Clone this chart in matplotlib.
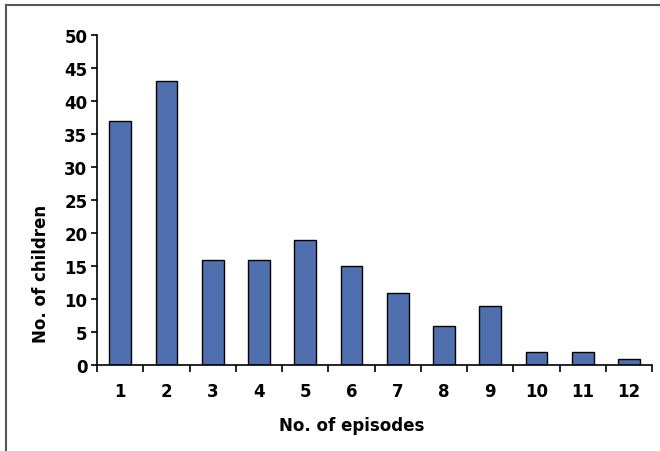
import matplotlib.pyplot as plt
from matplotlib.lines import Line2D

# episodes per child and how many children had that many
episodes = ['1', '2', '3', '4', '5', '6', '7', '8', '9', '10', '11', '12']
children = [37, 43, 16, 16, 19, 15, 11, 6, 9, 2, 2, 1]
y_ticks = [0, 5, 10, 15, 20, 25, 30, 35, 40, 45, 50]

plt.rcParams['font.family'] = ['DejaVu Sans']
plt.rcParams['font.weight'] = 'bold'

fig = plt.figure(figsize=(6.6, 4.52), dpi=100)
ax = fig.add_axes([0.147, 0.190, 0.841, 0.730])

x = range(len(episodes))
ax.bar(x, children, width=0.47, color='#4f6fae', edgecolor='black', linewidth=1.0, zorder=2)

ax.set_xlim(-0.5, len(episodes) - 0.5)
ax.set_ylim(0, 50)
ax.set_yticks(y_ticks)
ax.set_yticklabels([str(v) for v in y_ticks], fontsize=12, fontweight='bold')

# labels under the bars, ticks between the bars
ax.set_xticks(list(x))
ax.set_xticklabels(episodes, fontsize=12, fontweight='bold')
ax.tick_params(axis='x', which='major', length=0, pad=12)
ax.set_xticks([i - 0.5 for i in range(len(episodes) + 1)], minor=True)
ax.tick_params(axis='x', which='minor', length=5, width=1.2, direction='out')
ax.tick_params(axis='y', length=4, width=1.2, direction='out', pad=3)

for side in ['top', 'right']:
    ax.spines[side].set_visible(False)
for side in ['left', 'bottom']:
    ax.spines[side].set_linewidth(1.2)

ax.set_xlabel('No. of episodes', fontsize=12, fontweight='bold', labelpad=12)
ax.set_ylabel('No. of children', fontsize=12, fontweight='bold', labelpad=10)
# labels sit a bit off-centre in the original
ax.xaxis.label.set_x(0.458)
ax.yaxis.label.set_y(0.28)

# outer frame lines (top and left only)
fig.add_artist(Line2D([6 / 660, 1], [1 - 6 / 452, 1 - 6 / 452], color='#555555', linewidth=1.5,
                      transform=fig.transFigure))
fig.add_artist(Line2D([6 / 660, 6 / 660], [0, 1 - 6 / 452], color='#555555', linewidth=1.5,
                      transform=fig.transFigure))

plt.savefig('out.png', dpi=100)
